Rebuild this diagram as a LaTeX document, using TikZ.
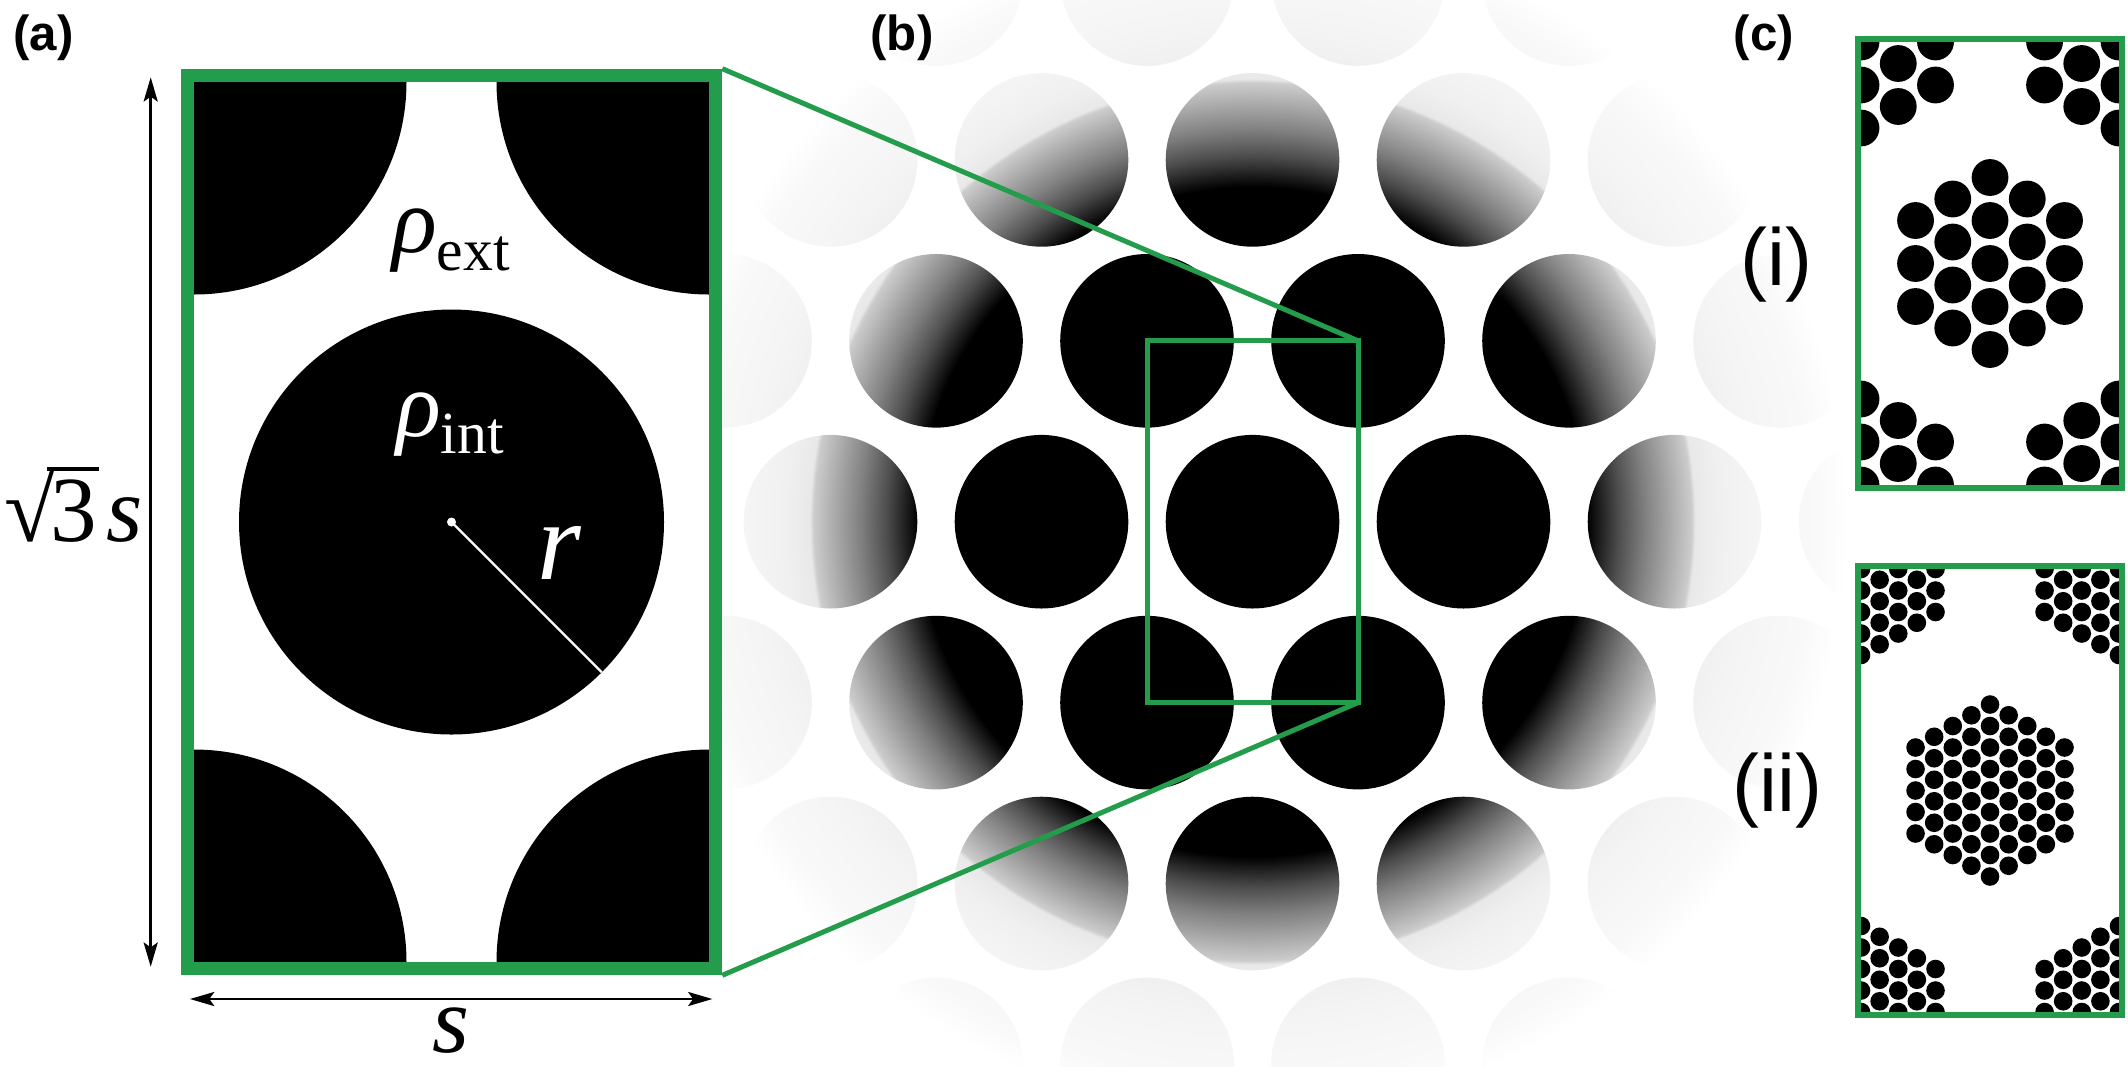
\documentclass[tikz,border=0pt]{standalone}
\usepackage{fontspec}
\setmainfont{Liberation Serif}
\setsansfont{Liberation Sans}
\usetikzlibrary{arrows.meta}
\definecolor{frgreen}{RGB}{35,157,76}

% radial mask for panel (b): black in the middle, fading to white outside
% (25bp corresponds to half the side of the shaded square)
\pgfdeclareradialshading{latticefade}{\pgfpoint{0bp}{0bp}}{%
  color(0bp)=(black); color(13.5bp)=(black); color(14.75bp)=(black!70);
  color(15.8bp)=(black!50); color(16.75bp)=(black!35); color(17.7bp)=(black!20);
  color(17.85bp)=(black!9); color(18.8bp)=(black!6); color(20.4bp)=(black!4);
  color(22.6bp)=(black!2.5); color(24bp)=(white); color(50bp)=(white)}

% hexagonal cluster: centre x, centre y, side n, spacing d, radius r
\newcommand\hexcluster[5]{%
  \pgfmathtruncatemacro\hcmax{#3-1}%
  \pgfmathtruncatemacro\hcmin{1-#3}%
  \foreach \cc in {\hcmin,...,\hcmax}{%
    \pgfmathtruncatemacro\hcm{2*#3-1-abs(\cc)}%
    \foreach \kk in {1,...,\hcm}{%
      \fill ({#1+\cc*0.8660254*#4},{#2+(\kk-(\hcm+1)/2)*#4}) circle[radius=#5];
    }%
  }%
}

\newcommand\sqrtthree{\mbox{√\kern-0.10em\rlap{\rule[\dimexpr\fontcharht\font"221A-0.045em\relax]{0.56em}{0.045em}}\kern0.04em 3}}

\begin{document}
\begin{tikzpicture}[x=0.01cm,y=-0.01cm,
  panellabel/.style={font=\sffamily\bfseries\fontsize{14pt}{16pt}\selectfont, inner sep=0, anchor=base},
  sublabel/.style={font=\sffamily\fontsize{23pt}{26pt}\selectfont, inner sep=0},
  mathlabel/.style={font=\fontsize{26.5pt}{30pt}\selectfont, inner sep=0, anchor=base},
  dimarrow/.style={line width=0.7pt, {Stealth[length=6.9pt,width=4pt,inset=1.4pt]}-{Stealth[length=6.9pt,width=4pt,inset=1.4pt]}},
  bigframe/.style={frgreen, line width=3.78pt},
  smallframe/.style={frgreen, line width=1.71pt},
  zoomline/.style={frgreen, line width=1.42pt}]

\useasboundingbox[fill=white] (0,0) rectangle (2128,1066);

% ---------------- panel (b): lattice with radial fade ----------------
\begin{scope}
  \clip foreach \kk in {-2,0,2} { foreach \jj in {-3,...,3} {
          ({1252.5+\jj*211},{521.7+\kk*180.9}) circle[radius=86.8] } }
        foreach \kk in {-3,-1,1,3} { foreach \jj in {-3,...,2} {
          ({1358+\jj*211},{521.7+\kk*180.9}) circle[radius=86.8] } };
  \shade[shading=latticefade] (632.5,-98.3) rectangle (1872.5,1141.7);
\end{scope}

\coordinate (bTL) at (1147,340.8);
\coordinate (bTR) at (1358,340.8);
\coordinate (bBL) at (1147,702.6);
\coordinate (bBR) at (1358,702.6);
\coordinate (aTR) at (722.3,68.7);
\coordinate (aBR) at (722.3,975.3);
\draw[zoomline] (bTL) rectangle (bBR);
\draw[zoomline] (aTR) -- (bTR);
\draw[zoomline] (aBR) -- (bBR);

% ---------------- panel (a): unit cell ----------------
\fill[white] (194,82) rectangle (709,962);
\begin{scope}
  \clip (194,82) rectangle (709,962);
  \fill (194,82) circle[radius=212.5] (709,82) circle[radius=212.5]
        (194,962) circle[radius=212.5] (709,962) circle[radius=212.5]
        (451.5,522) circle[radius=212.5];
\end{scope}
\draw[bigframe] (187.35,75.35) rectangle (715.65,968.65);

\coordinate (acenter) at (451.5,522);
\coordinate (aredge) at (601.8,672.3);
\draw[white, line width=0.7pt] (acenter) -- (aredge);
\fill[white] (acenter) circle[radius=4.5];

\node[mathlabel, anchor=base] (rhoext) at (451,252)
  {\textit{ρ}\raisebox{-5.2pt}{\fontsize{17pt}{18pt}\selectfont ext}};
\node[mathlabel, anchor=base, text=white] (rhoint) at (450,436)
  {\textit{ρ}\raisebox{-5.0pt}{\fontsize{17pt}{18pt}\selectfont int}};
\node[inner sep=0, anchor=base, text=white, font=\fontsize{32pt}{36pt}\selectfont] (rlab) at (559.5,579.5) {\textit{r}};

% dimension arrows
\coordinate (vtop) at (150.7,77.3);
\coordinate (vbot) at (150.7,966.7);
\coordinate (hleft) at (190,999);
\coordinate (hright) at (712.4,999);
\draw[dimarrow] (vtop) -- (vbot);
\draw[dimarrow] (hleft) -- (hright);
\node[mathlabel, anchor=base west] (hlab) at (4,541) {\sqrtthree\kern0.1em\textit{s}};
\node[mathlabel, font=\fontsize{27pt}{30pt}\selectfont] (wlab) at (450.5,1052) {\textit{s}};

% ---------------- panel (c) ----------------
\begin{scope}
  \clip (1861,42) rectangle (2119,485);
  \foreach \hx/\hy in {1990/263.5, 1861/42, 2119/42, 1861/485, 2119/485}
    {\hexcluster{\hx}{\hy}{3}{43}{18.4}}
\end{scope}
\draw[smallframe] (1858,39) rectangle (2122,488);

\begin{scope}
  \clip (1861,569) rectangle (2119,1012);
  \foreach \hx/\hy in {1990/790.5, 1861/569, 2119/569, 1861/1012, 2119/1012}
    {\hexcluster{\hx}{\hy}{5}{21.5}{9.3}}
\end{scope}
\draw[smallframe] (1858,566) rectangle (2122,1015);

\node[sublabel] (labi) at (1776,264.5) {(i)};
\node[sublabel] (labii) at (1777.5,791) {(ii)};

% panel labels
\node[panellabel] (pa) at (43.5,50) {(a)};
\node[panellabel] (pb) at (902,50) {(b)};
\node[panellabel] (pc) at (1764,50) {(c)};
\end{tikzpicture}
\end{document}
